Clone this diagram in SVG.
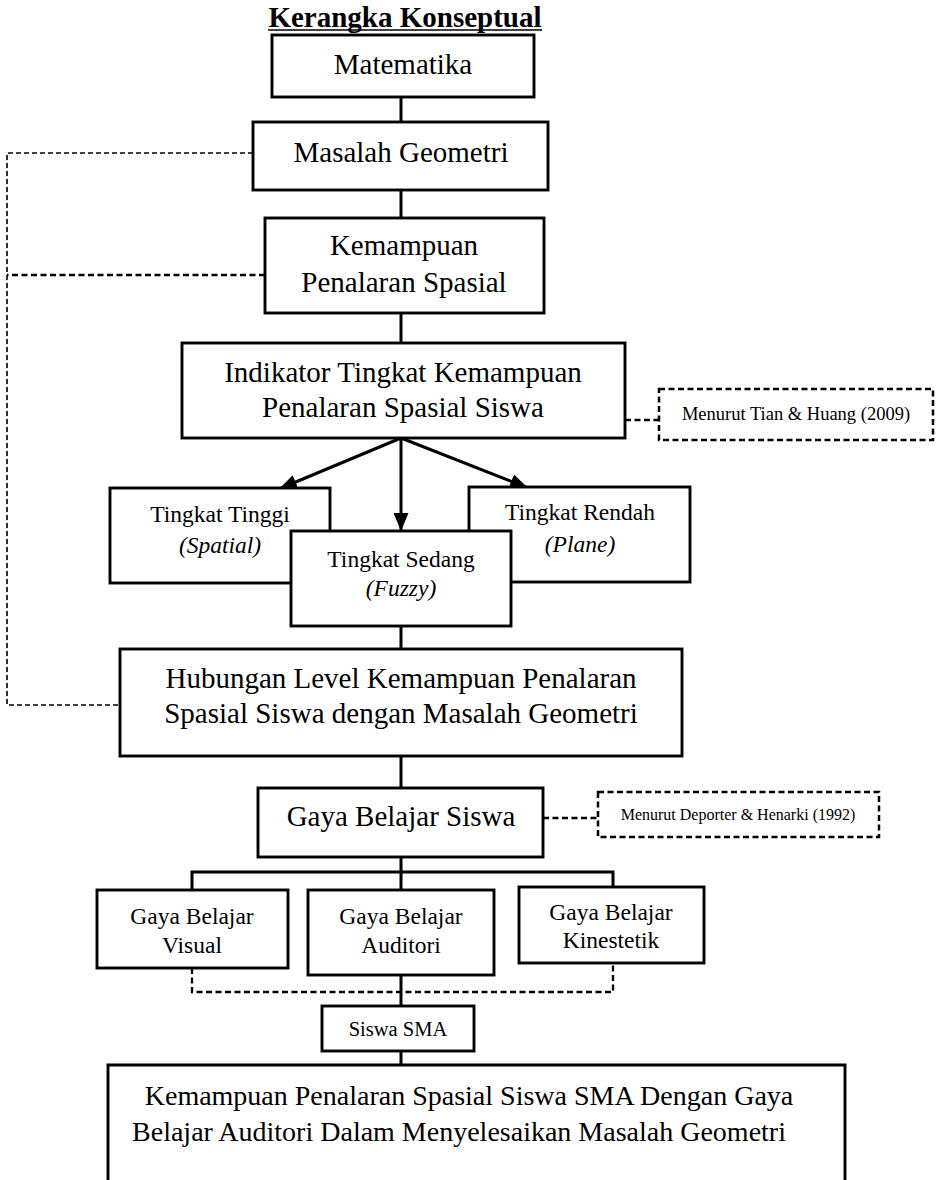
<svg xmlns="http://www.w3.org/2000/svg" width="938" height="1180" viewBox="0 0 938 1180" font-family="'Liberation Serif', 'Times New Roman', serif">
<style>
text{font-family:'Liberation Serif','Times New Roman',serif;fill:#000;text-anchor:middle}
.box{fill:#fff;stroke:#000;stroke-width:2.9}
.dbox{fill:#fff;stroke:#000;stroke-width:2.5;stroke-dasharray:6 3.5}
.con{fill:none;stroke:#000;stroke-width:3}
.dash{fill:none;stroke:#000;stroke-width:2.3;stroke-dasharray:6 3.5}
.dthin{fill:none;stroke:#000;stroke-width:1.6;stroke-dasharray:5 3}
.big{font-family:'Liberation Serif','Times New Roman',serif;font-size:29px}
.mid{font-family:'Liberation Serif','Times New Roman',serif;font-size:23.5px}
.sm{font-family:'Liberation Serif','Times New Roman',serif;font-size:20.5px}
.fin{font-family:'Liberation Serif','Times New Roman',serif;font-size:28px}
.ref1{font-family:'Liberation Serif','Times New Roman',serif;font-size:18.5px}
.ref2{font-family:'Liberation Serif','Times New Roman',serif;font-size:16px}
.ttl{font-family:'Liberation Serif','Times New Roman',serif;font-size:29px;font-weight:bold}
.it{font-style:italic}
</style>
<defs>
<marker id="ah" viewBox="0 0 18 15" refX="18" refY="7.5" markerWidth="18" markerHeight="15" orient="auto" markerUnits="userSpaceOnUse">
<path d="M0,0 L18,7.5 L0,15 z" fill="#000"/>
</marker>
</defs>
<g id="title">
<text class="ttl" x="405" y="27">Kerangka Konseptual</text>
<line x1="268" y1="30" x2="542" y2="30" stroke="#000" stroke-width="1.5"/>
</g>
<g id="connectors">
<path class="con" d="M401,97 V122 M401,190 V218 M401,313 V343 M401,626 V649 M401,756 V788 M401,857 V872 M192,890 V872 H613 V887 M401,872 V890 M401,975 V1006 M401,1051 V1065"/>
<line class="con" x1="401" y1="438" x2="279" y2="489" marker-end="url(#ah)"/>
<line class="con" x1="401" y1="438" x2="401" y2="531" marker-end="url(#ah)"/>
<line class="con" x1="401" y1="438" x2="528" y2="488" marker-end="url(#ah)"/>
<path class="dthin" d="M253,153 H7 V705 H120"/>
<path class="dash" d="M265,275 H7"/>
<path class="dash" d="M625,420 H659"/>
<path class="dash" d="M543,818 H598"/>
<path class="dash" d="M192,968 V992 H613 V963"/>
</g>
<g id="matematika">
<rect class="box" x="272" y="35" width="262" height="62"/>
<text class="big" x="403" y="74">Matematika</text>
</g>
<g id="masalah">
<rect class="box" x="253" y="122" width="295" height="68"/>
<text class="big" x="401" y="162">Masalah Geometri</text>
</g>
<g id="kemampuan">
<rect class="box" x="265" y="218" width="279" height="95"/>
<text class="big" x="404" y="255">Kemampuan</text>
<text class="big" x="404" y="292">Penalaran Spasial</text>
</g>
<g id="indikator">
<rect class="box" x="182" y="343" width="443" height="95"/>
<text class="big" x="403" y="382">Indikator Tingkat Kemampuan</text>
<text class="big" x="403" y="417">Penalaran Spasial Siswa</text>
</g>
<g id="tian">
<rect class="dbox" x="659" y="389" width="274" height="51"/>
<text class="ref1" x="796" y="420">Menurut Tian &amp; Huang (2009)</text>
</g>
<g id="tinggi">
<rect class="box" x="110" y="488" width="220" height="95"/>
<text class="mid" x="220" y="522">Tingkat Tinggi</text>
<text class="mid it" x="220" y="553">(Spatial)</text>
</g>
<g id="rendah">
<rect class="box" x="469" y="487" width="221" height="95"/>
<text class="mid" x="580" y="520">Tingkat Rendah</text>
<text class="mid it" x="580" y="552">(Plane)</text>
</g>
<g id="sedang">
<rect class="box" x="291" y="531" width="220" height="95"/>
<text class="mid" x="401" y="567">Tingkat Sedang</text>
<text class="mid it" x="401" y="596">(Fuzzy)</text>
</g>
<g id="hubungan">
<rect class="box" x="120" y="649" width="562" height="107"/>
<text class="big" x="401" y="688">Hubungan Level Kemampuan Penalaran</text>
<text class="big" x="401" y="723">Spasial Siswa dengan Masalah Geometri</text>
</g>
<g id="gaya">
<rect class="box" x="258" y="788" width="285" height="69"/>
<text class="big" x="401" y="826">Gaya Belajar Siswa</text>
</g>
<g id="deporter">
<rect class="dbox" x="598" y="792" width="281" height="45"/>
<text class="ref2" x="738" y="820">Menurut Deporter &amp; Henarki (1992)</text>
</g>
<g id="visual">
<rect class="box" x="97" y="890" width="191" height="78"/>
<text class="mid" x="192" y="924">Gaya Belajar</text>
<text class="mid" x="192" y="953">Visual</text>
</g>
<g id="auditori">
<rect class="box" x="308" y="890" width="186" height="85"/>
<text class="mid" x="401" y="924">Gaya Belajar</text>
<text class="mid" x="401" y="953">Auditori</text>
</g>
<g id="kinestetik">
<rect class="box" x="519" y="887" width="185" height="76"/>
<text class="mid" x="611" y="920">Gaya Belajar</text>
<text class="mid" x="611" y="948">Kinestetik</text>
</g>
<g id="siswa-sma">
<rect class="box" x="322" y="1006" width="152" height="45"/>
<text class="sm" x="398" y="1036">Siswa SMA</text>
</g>
<g id="hasil">
<path class="box" d="M108,1190 V1065 H845 V1190"/>
<text class="fin" x="469" y="1105">Kemampuan Penalaran Spasial Siswa SMA Dengan Gaya</text>
<text class="fin" x="459" y="1141">Belajar Auditori Dalam Menyelesaikan Masalah Geometri</text>
</g>
</svg>
